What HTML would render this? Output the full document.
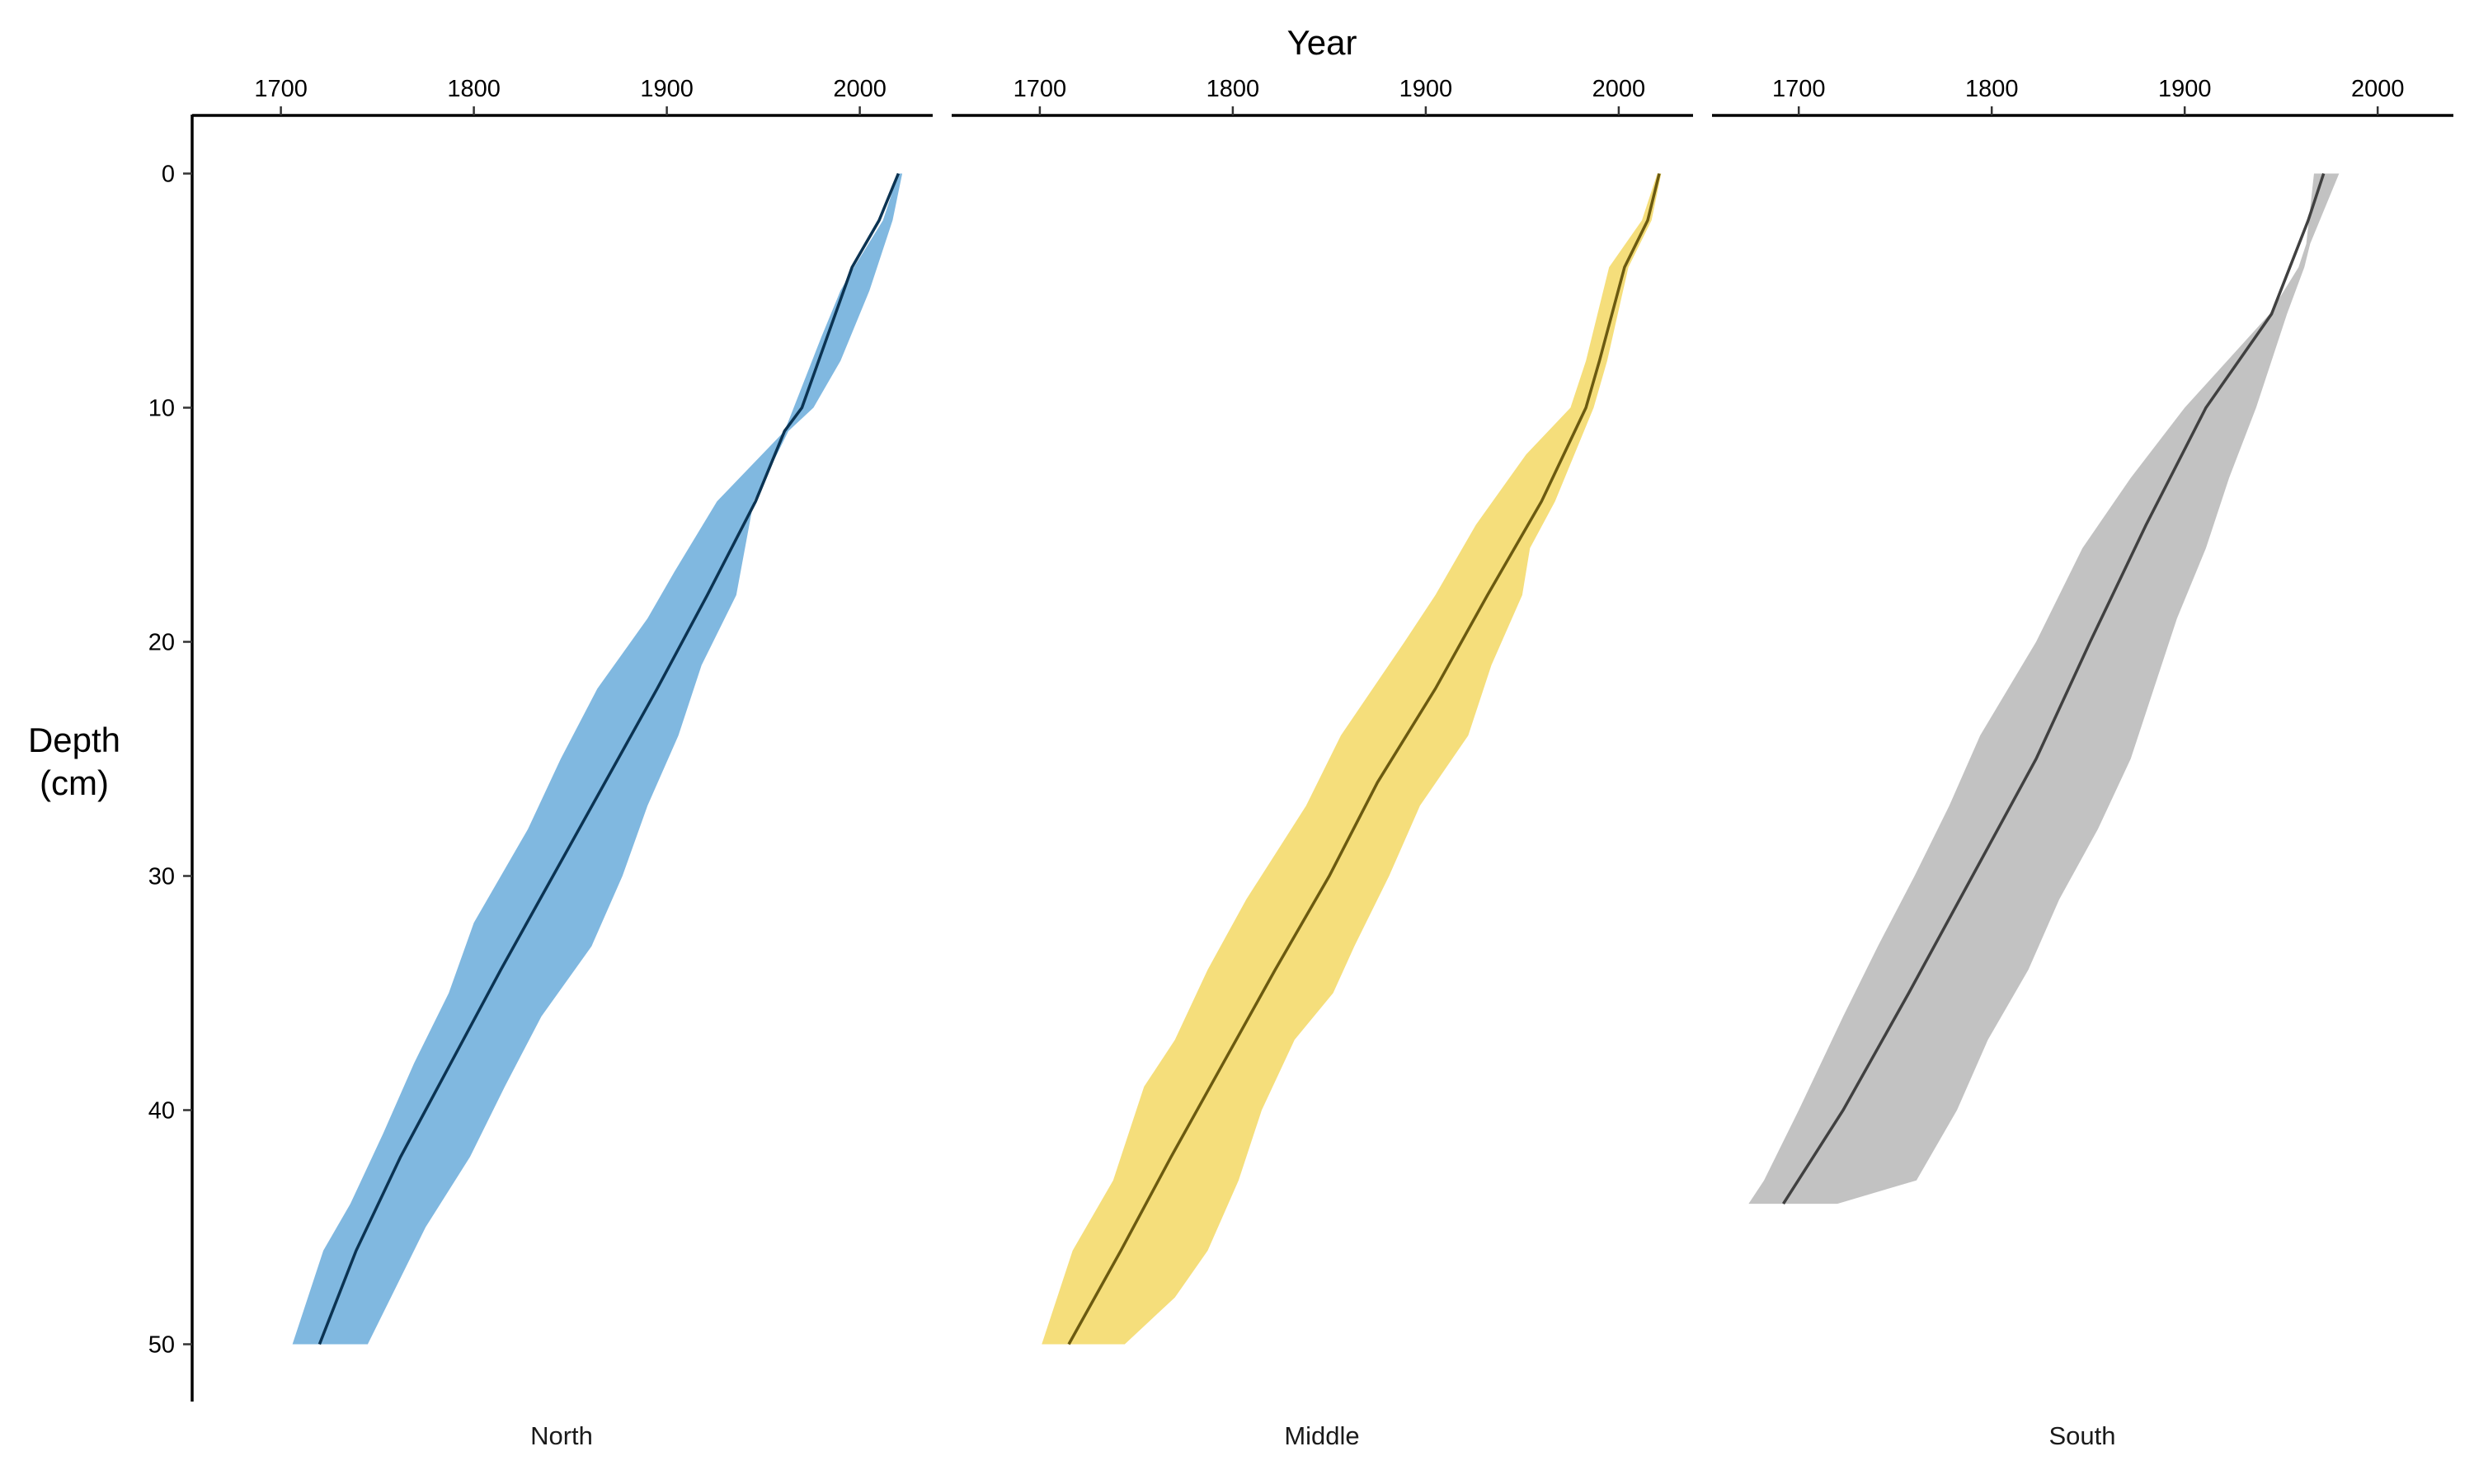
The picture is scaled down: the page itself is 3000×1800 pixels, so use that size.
<!DOCTYPE html>
<html><head><meta charset="utf-8"><style>
html,body{margin:0;padding:0;background:#fff;}
svg{display:block;font-family:"Liberation Sans",sans-serif;}
</style></head><body>
<svg id="chart" width="3000" height="1800" viewBox="0 0 3000 1800"></svg>
<script>
const panels = ["North","Middle","South"];
const xTicks = [1700,1800,1900,2000];
const yTicks = [0,10,20,30,40,50];
const northDepth = [0,2,4,7,10,11,14,18,22,26,30,34,38,42,46,50];
const northMedian = [2020,2010,1996,1983,1970,1961,1946,1921,1895,1868,1841,1814,1788,1762,1739,1720];
const northLoDepth = [0,2,4,5,7,11,14,17,19,22,25,28,32,35,38,41,44,46,49,50];
const northLo = [2020,2012,1997,1990,1980,1961,1926,1904,1890,1864,1845,1828,1800,1787,1769,1753,1736,1722,1710,1706];
const northHiDepth = [0,2,5,8,10,11,14,18,21,24,27,30,33,36,39,42,45,48,50];
const northHi = [2022,2017,2005,1990,1976,1963,1945,1936,1918,1906,1890,1877,1861,1835,1816,1798,1775,1757,1745];
const middleDepth = [0,2,4,8,10,14,18,22,26,30,34,38,42,46,50];
const middleMedian = [2021,2015,2003,1990,1983,1960,1932,1905,1875,1850,1822,1795,1768,1742,1715];
const middleLoDepth = [0,2,4,8,10,12,15,18,20,24,27,31,34,37,39,43,46,49,50];
const middleLo = [2020,2012,1995,1983,1975,1952,1926,1905,1889,1856,1838,1807,1787,1770,1754,1738,1717,1705,1701];
const middleHiDepth = [0,2,4,8,10,14,16,18,21,24,27,30,33,35,37,40,43,46,48,50];
const middleHi = [2022,2017,2005,1994,1987,1967,1954,1950,1934,1922,1897,1881,1863,1852,1832,1815,1803,1787,1770,1744];
const southDepth = [0,2,6,10,15,20,25,30,35,40,44];
const southMedian = [1972,1964,1945,1911,1880,1851,1823,1790,1757,1723,1692];
const southLoDepth = [0,3,4,6,8,10,13,16,20,24,27,30,33,36,40,43,44];
const southLo = [1967,1963,1959,1944,1922,1900,1872,1847,1823,1794,1778,1760,1741,1723,1700,1682,1674];
const southHiDepth = [0,3,4,6,8,10,13,16,19,22,25,28,31,34,37,40,43,44];
const southHi = [1980,1965,1962,1953,1945,1937,1923,1911,1896,1884,1872,1855,1835,1819,1798,1782,1761,1720];

const NS="http://www.w3.org/2000/svg";
const svg=document.getElementById('chart');
function el(t,a,p){const e=document.createElementNS(NS,t);for(const k in a)e.setAttribute(k,a[k]);(p||svg).appendChild(e);return e;}
const panelOffset=920.3, axisLeft=[233,1154,2076], axisRight=[1131,2053,2975];
function xs(year,p){return 340.6+(year-1700)*2.340+p*panelOffset;}
function ys(d){return 210.5+d*28.4;}

const series=[
 {d:northDepth,m:northMedian,ld:northLoDepth,l:northLo,hd:northHiDepth,h:northHi,fill:"#80b8e0",line:"#0b3352"},
 {d:middleDepth,m:middleMedian,ld:middleLoDepth,l:middleLo,hd:middleHiDepth,h:middleHi,fill:"#f5de7b",line:"#6b5a10"},
 {d:southDepth,m:southMedian,ld:southLoDepth,l:southLo,hd:southHiDepth,h:southHi,fill:"#c2c2c2",line:"#404040"}
];
series.forEach((s,p)=>{
  let pts=s.l.map((v,i)=>xs(v,p)+","+ys(s.ld[i]));
  for(let i=s.h.length-1;i>=0;i--)pts.push(xs(s.h[i],p)+","+ys(s.hd[i]));
  const band=el('polygon',{points:pts.join(' '),fill:s.fill});
  
  
  const ln=el('polyline',{points:s.m.map((v,i)=>xs(v,p)+","+ys(s.d[i])).join(' '),fill:'none',stroke:s.line,'stroke-width':3.5});
  
  
  const ax=el('line',{x1:axisLeft[p],x2:axisRight[p],y1:140,y2:140,stroke:'#000','stroke-width':3.5});
  
  
  xTicks.forEach(t=>{
    const tk=el('line',{x1:xs(t,p),x2:xs(t,p),y1:129,y2:140,stroke:'#333','stroke-width':2.5});
    
    
    const tl=el('text',{x:xs(t,p),y:117,'text-anchor':'middle','font-size':29,fill:'#000'});
    tl.textContent=t;
    
    
  });
  const fl=el('text',{x:[681,1603,2525][p],y:1752,'text-anchor':'middle','font-size':31,fill:'#1a1a1a'});
  fl.textContent=panels[p];
  
  
});
const yax=el('line',{x1:233,x2:233,y1:139,y2:1700,stroke:'#000','stroke-width':3.5});


yTicks.forEach(t=>{
  const tk=el('line',{x1:222,x2:233,y1:ys(t),y2:ys(t),stroke:'#333','stroke-width':2.5});
  
  
  const tl=el('text',{x:212,y:ys(t)+10,'text-anchor':'end','font-size':29,fill:'#000'});
  tl.textContent=t;
  
  
});
const xt=el('text',{x:1603,y:66,'text-anchor':'middle','font-size':42,fill:'#000'});
xt.textContent='Year';


const yt=el('text',{x:90,y:912,'text-anchor':'middle','font-size':42,fill:'#000'});
yt.textContent='Depth';


const yt2=el('text',{x:90,y:964,'text-anchor':'middle','font-size':42,fill:'#000'});
yt2.textContent='(cm)';


</script>
</body></html>
